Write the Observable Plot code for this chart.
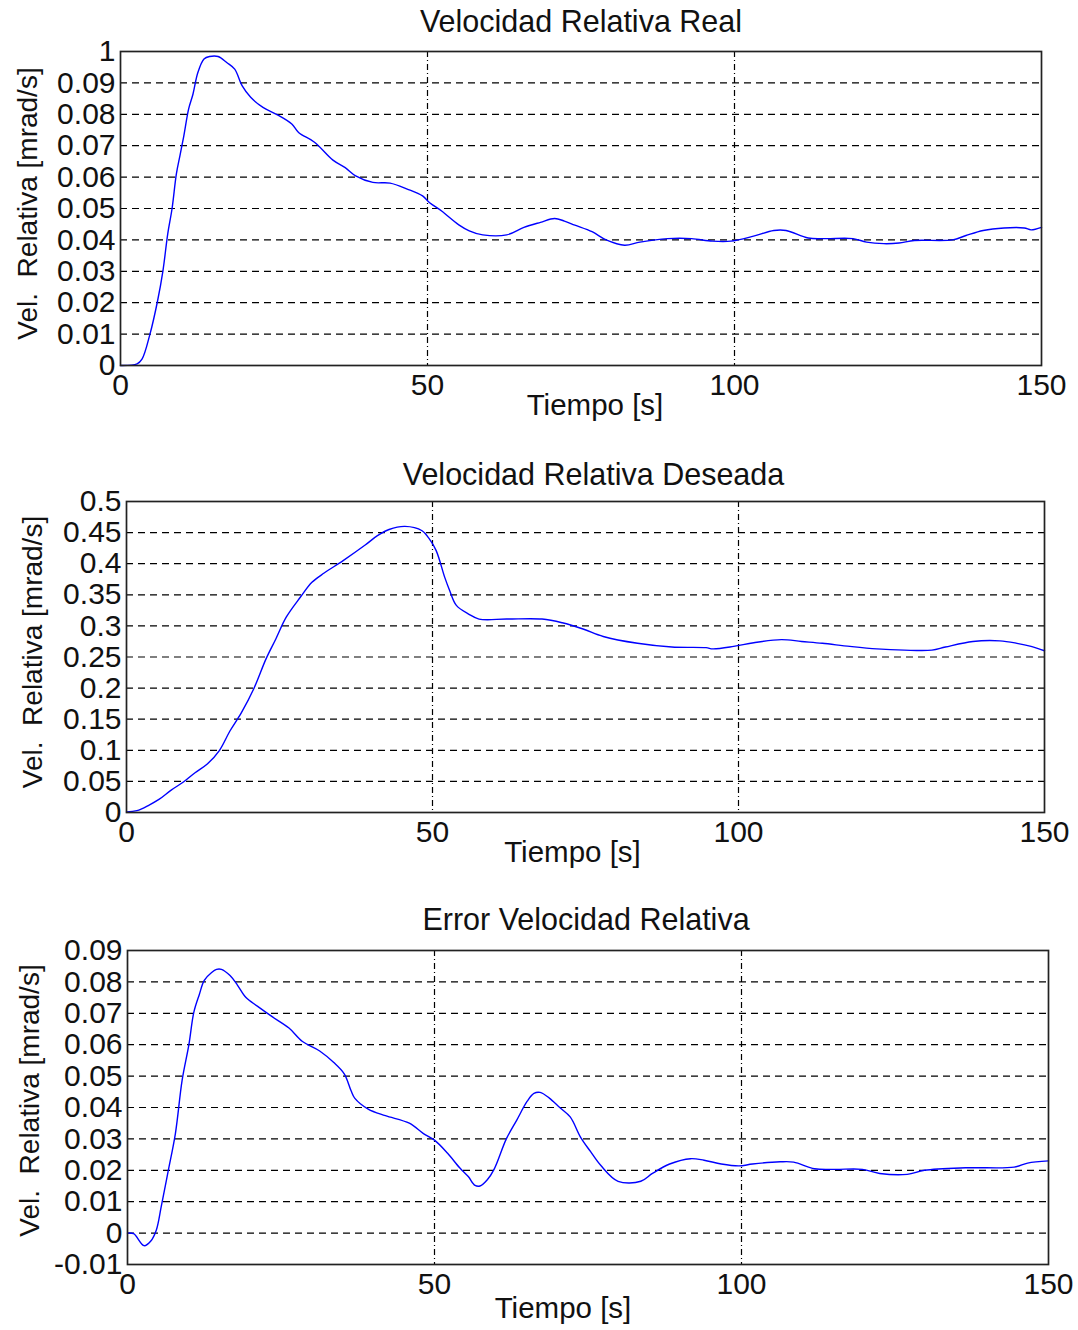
<!DOCTYPE html>
<html><head><meta charset="utf-8">
<script src="https://cdn.jsdelivr.net/npm/d3@7"></script>
<script src="https://cdn.jsdelivr.net/npm/@observablehq/plot@0.6"></script>
<style>
body{margin:0;background:#fff;}
#wrap{position:relative;width:1078px;height:1330px;background:#fff;overflow:hidden;}
.panel{position:absolute;left:0;}
.panel svg{font-family:"Liberation Sans",Arial,sans-serif;}
</style></head><body><div id="wrap"></div>
<script>
// ---- Data: Velocidad Relativa Real ----
const tReal = [0,2.7,3.5,4.8,6.05,6.9,7.7,8.4,9.1,9.7,10.3,11.1,11.8,12.6,13.6,14.5,15.9,17.3,18.6,19.8,21.2,23.2,25.4,27.9,29.0,31.6,34.6,36.6,38.3,41.1,43.9,46.7,49.2,50.3,52.3,55.1,56.8,59.0,62.9,65.7,68.4,70.7,72.3,74.0,76.8,79.1,82.1,84.6,89.1,93.0,96.4,99.4,103.1,106.4,108.4,112.0,114.8,119.3,121.5,124.3,126.8,129.3,135.5,137.7,140.5,143.9,147.2,148.3,150];
const vReal = [0,0.0005,0.002,0.010,0.0207,0.030,0.042,0.050,0.061,0.067,0.073,0.0817,0.0864,0.0933,0.0976,0.0984,0.0984,0.0965,0.0944,0.0891,0.0854,0.0822,0.080,0.0769,0.0742,0.0711,0.0654,0.063,0.0604,0.0583,0.0581,0.0562,0.054,0.0519,0.0492,0.0448,0.0429,0.0416,0.0416,0.044,0.0456,0.0468,0.046,0.0447,0.0426,0.040,0.0383,0.0393,0.0404,0.0404,0.0396,0.0396,0.0412,0.043,0.043,0.0406,0.0404,0.0404,0.0393,0.0388,0.039,0.0398,0.040,0.0414,0.043,0.0438,0.0438,0.0432,0.044];

// ---- Data: Velocidad Relativa Deseada ----
const tDes = [0,1.7,3.7,5.3,7.3,9.3,11.2,13.2,15.2,16.9,18.8,20.8,22.8,24.4,26.1,28.4,30.3,32.3,35.4,39.0,41.0,42.9,45.5,48.3,49.4,50.6,52.0,52.8,53.9,55.9,57.6,62.1,67.9,71.2,74.6,77.9,83.5,89.1,94.7,95.8,99.2,102.5,107.0,110.3,113.7,118.2,122.6,127.1,131.6,133.8,138.3,142.7,145.5,147.8,150];
const vDes = [0.001,0.003,0.012,0.021,0.036,0.049,0.064,0.078,0.100,0.131,0.161,0.199,0.247,0.279,0.314,0.346,0.370,0.385,0.405,0.430,0.445,0.455,0.460,0.453,0.441,0.421,0.378,0.357,0.333,0.319,0.311,0.311,0.311,0.305,0.295,0.283,0.272,0.266,0.265,0.263,0.267,0.273,0.278,0.275,0.272,0.267,0.263,0.261,0.261,0.266,0.275,0.276,0.272,0.267,0.26];

// ---- Data: Error Velocidad Relativa ----
const tErr = [0,1.0,2.7,3.8,4.7,5.5,6.6,7.8,8.9,10.0,10.8,11.7,12.5,13.7,14.5,15.3,16.7,17.9,19.3,21.2,23.5,26.3,28.5,31.3,33.6,35.3,36.4,37.0,39.2,42.0,45.9,48.2,50,52.1,54.1,55.5,56.6,57.4,58.6,59.7,61.7,63.4,65.1,66.2,67.2,68.7,70.4,72.1,73.8,75.4,77.1,79.9,83.6,85.5,88.3,91.7,93.9,96.7,99.6,101.8,106.3,108.5,111.9,115.2,119.7,122.5,127.0,129.8,136.5,144.4,146.6,150];
const vErr = [0,-0.0002,-0.004,-0.0025,0.001,0.0085,0.0195,0.0317,0.0487,0.060,0.0703,0.076,0.0805,0.083,0.084,0.084,0.082,0.079,0.075,0.0722,0.069,0.0653,0.061,0.058,0.0543,0.0507,0.0454,0.043,0.0395,0.0374,0.035,0.0317,0.0296,0.0255,0.0208,0.018,0.0152,0.015,0.017,0.0203,0.030,0.036,0.042,0.0445,0.0448,0.043,0.040,0.037,0.0305,0.026,0.0215,0.0165,0.0165,0.019,0.022,0.0237,0.0232,0.022,0.0214,0.022,0.0227,0.0226,0.0205,0.0203,0.0203,0.019,0.0187,0.020,0.0208,0.021,0.0223,0.023];

// ---- Ticks and labels ----
const xTicks = [0,50,100,150];
const yTicksReal = [0,0.01,0.02,0.03,0.04,0.05,0.06,0.07,0.08,0.09,0.1];
const yLabelsReal = ["0","0.01","0.02","0.03","0.04","0.05","0.06","0.07","0.08","0.09","1"];
const yTicksDes = [0,0.05,0.1,0.15,0.2,0.25,0.3,0.35,0.4,0.45,0.5];
const yLabelsDes = ["0","0.05","0.1","0.15","0.2","0.25","0.3","0.35","0.4","0.45","0.5"];
const yTicksErr = [-0.01,0,0.01,0.02,0.03,0.04,0.05,0.06,0.07,0.08,0.09];
const yLabelsErr = ["-0.01","0","0.01","0.02","0.03","0.04","0.05","0.06","0.07","0.08","0.09"];

const titles = ["Velocidad Relativa Real","Velocidad Relativa Deseada","Error Velocidad Relativa"];
const xLabel = "Tiempo [s]";
const yLabel = "Vel.  Relativa [mrad/s]";

const panels = [
  {t:tReal, v:vReal, yDomain:[0,0.1], yTicks:yTicksReal, yLabels:yLabelsReal, title:titles[0],
   top:0, height:425, mt:51, mb:60, ml:120, mr:37, titleDy:-29, titleDx:0, xlDy:40, xlDx:14, ylDx:-92, ylDy:-5},
  {t:tDes, v:vDes, yDomain:[0,0.5], yTicks:yTicksDes, yLabels:yLabelsDes, title:titles[1],
   top:450, height:422, mt:51, mb:60, ml:126, mr:34, titleDy:-26, titleDx:8, xlDy:40, xlDx:-13, ylDx:-93, ylDy:-5},
  {t:tErr, v:vErr, yDomain:[-0.01,0.09], yTicks:yTicksErr, yLabels:yLabelsErr, title:titles[2],
   top:900, height:430, mt:50, mb:66, ml:127, mr:30, titleDy:-30, titleDx:-2, xlDy:44, xlDx:-25, ylDx:-97, ylDy:-7}
];

const wrap = document.getElementById("wrap");
for (const p of panels) {
  const data = p.t.map((t,i) => ({t, v: p.v[i]}));
  const chart = Plot.plot({
    width: 1078,
    height: p.height,
    marginTop: p.mt, marginBottom: p.mb, marginLeft: p.ml, marginRight: p.mr,
    style: {fontFamily: '"Liberation Sans", Arial, sans-serif', background: "transparent", color: "#111"},
    x: {domain: [0,150]},
    y: {domain: p.yDomain},
    marks: [
      Plot.gridY(p.yTicks, {stroke: "#000", strokeOpacity: 1, strokeWidth: 1.2, strokeDasharray: "7,5"}),
      Plot.gridX([50,100], {stroke: "#000", strokeOpacity: 1, strokeWidth: 1.2, strokeDasharray: "6,3,1,3"}),
      Plot.axisY(p.yTicks, {anchor: "left", tickSize: 0, tickPadding: 5, fontSize: 30, label: null,
        tickFormat: d => p.yLabels[p.yTicks.indexOf(d)]}),
      Plot.axisX(xTicks, {anchor: "bottom", tickSize: 0, tickPadding: 8, fontSize: 30, label: null,
        tickFormat: d => String(d)}),
      Plot.line(data, {x: "t", y: "v", stroke: "#0000ff", strokeWidth: 1.4, curve: "catmull-rom"}),
      Plot.frame({stroke: "#222", strokeWidth: 1.7}),
      Plot.text([p.title], {frameAnchor: "top", textAnchor: "middle", lineAnchor: "middle", dy: p.titleDy, dx: p.titleDx, fontSize: 30.5, fill: "#111"}),
      Plot.text([xLabel], {frameAnchor: "bottom", textAnchor: "middle", lineAnchor: "middle", dy: p.xlDy, dx: p.xlDx, fontSize: 29.5, fill: "#111"}),
      Plot.text([yLabel], {frameAnchor: "left", textAnchor: "middle", lineAnchor: "middle", rotate: -90, dx: p.ylDx, dy: p.ylDy, fontSize: 28, fill: "#111"})
    ]
  });
  const div = document.createElement("div");
  div.className = "panel";
  div.style.top = p.top + "px";
  div.appendChild(chart);
  wrap.appendChild(div);
}
</script>
</body></html>
